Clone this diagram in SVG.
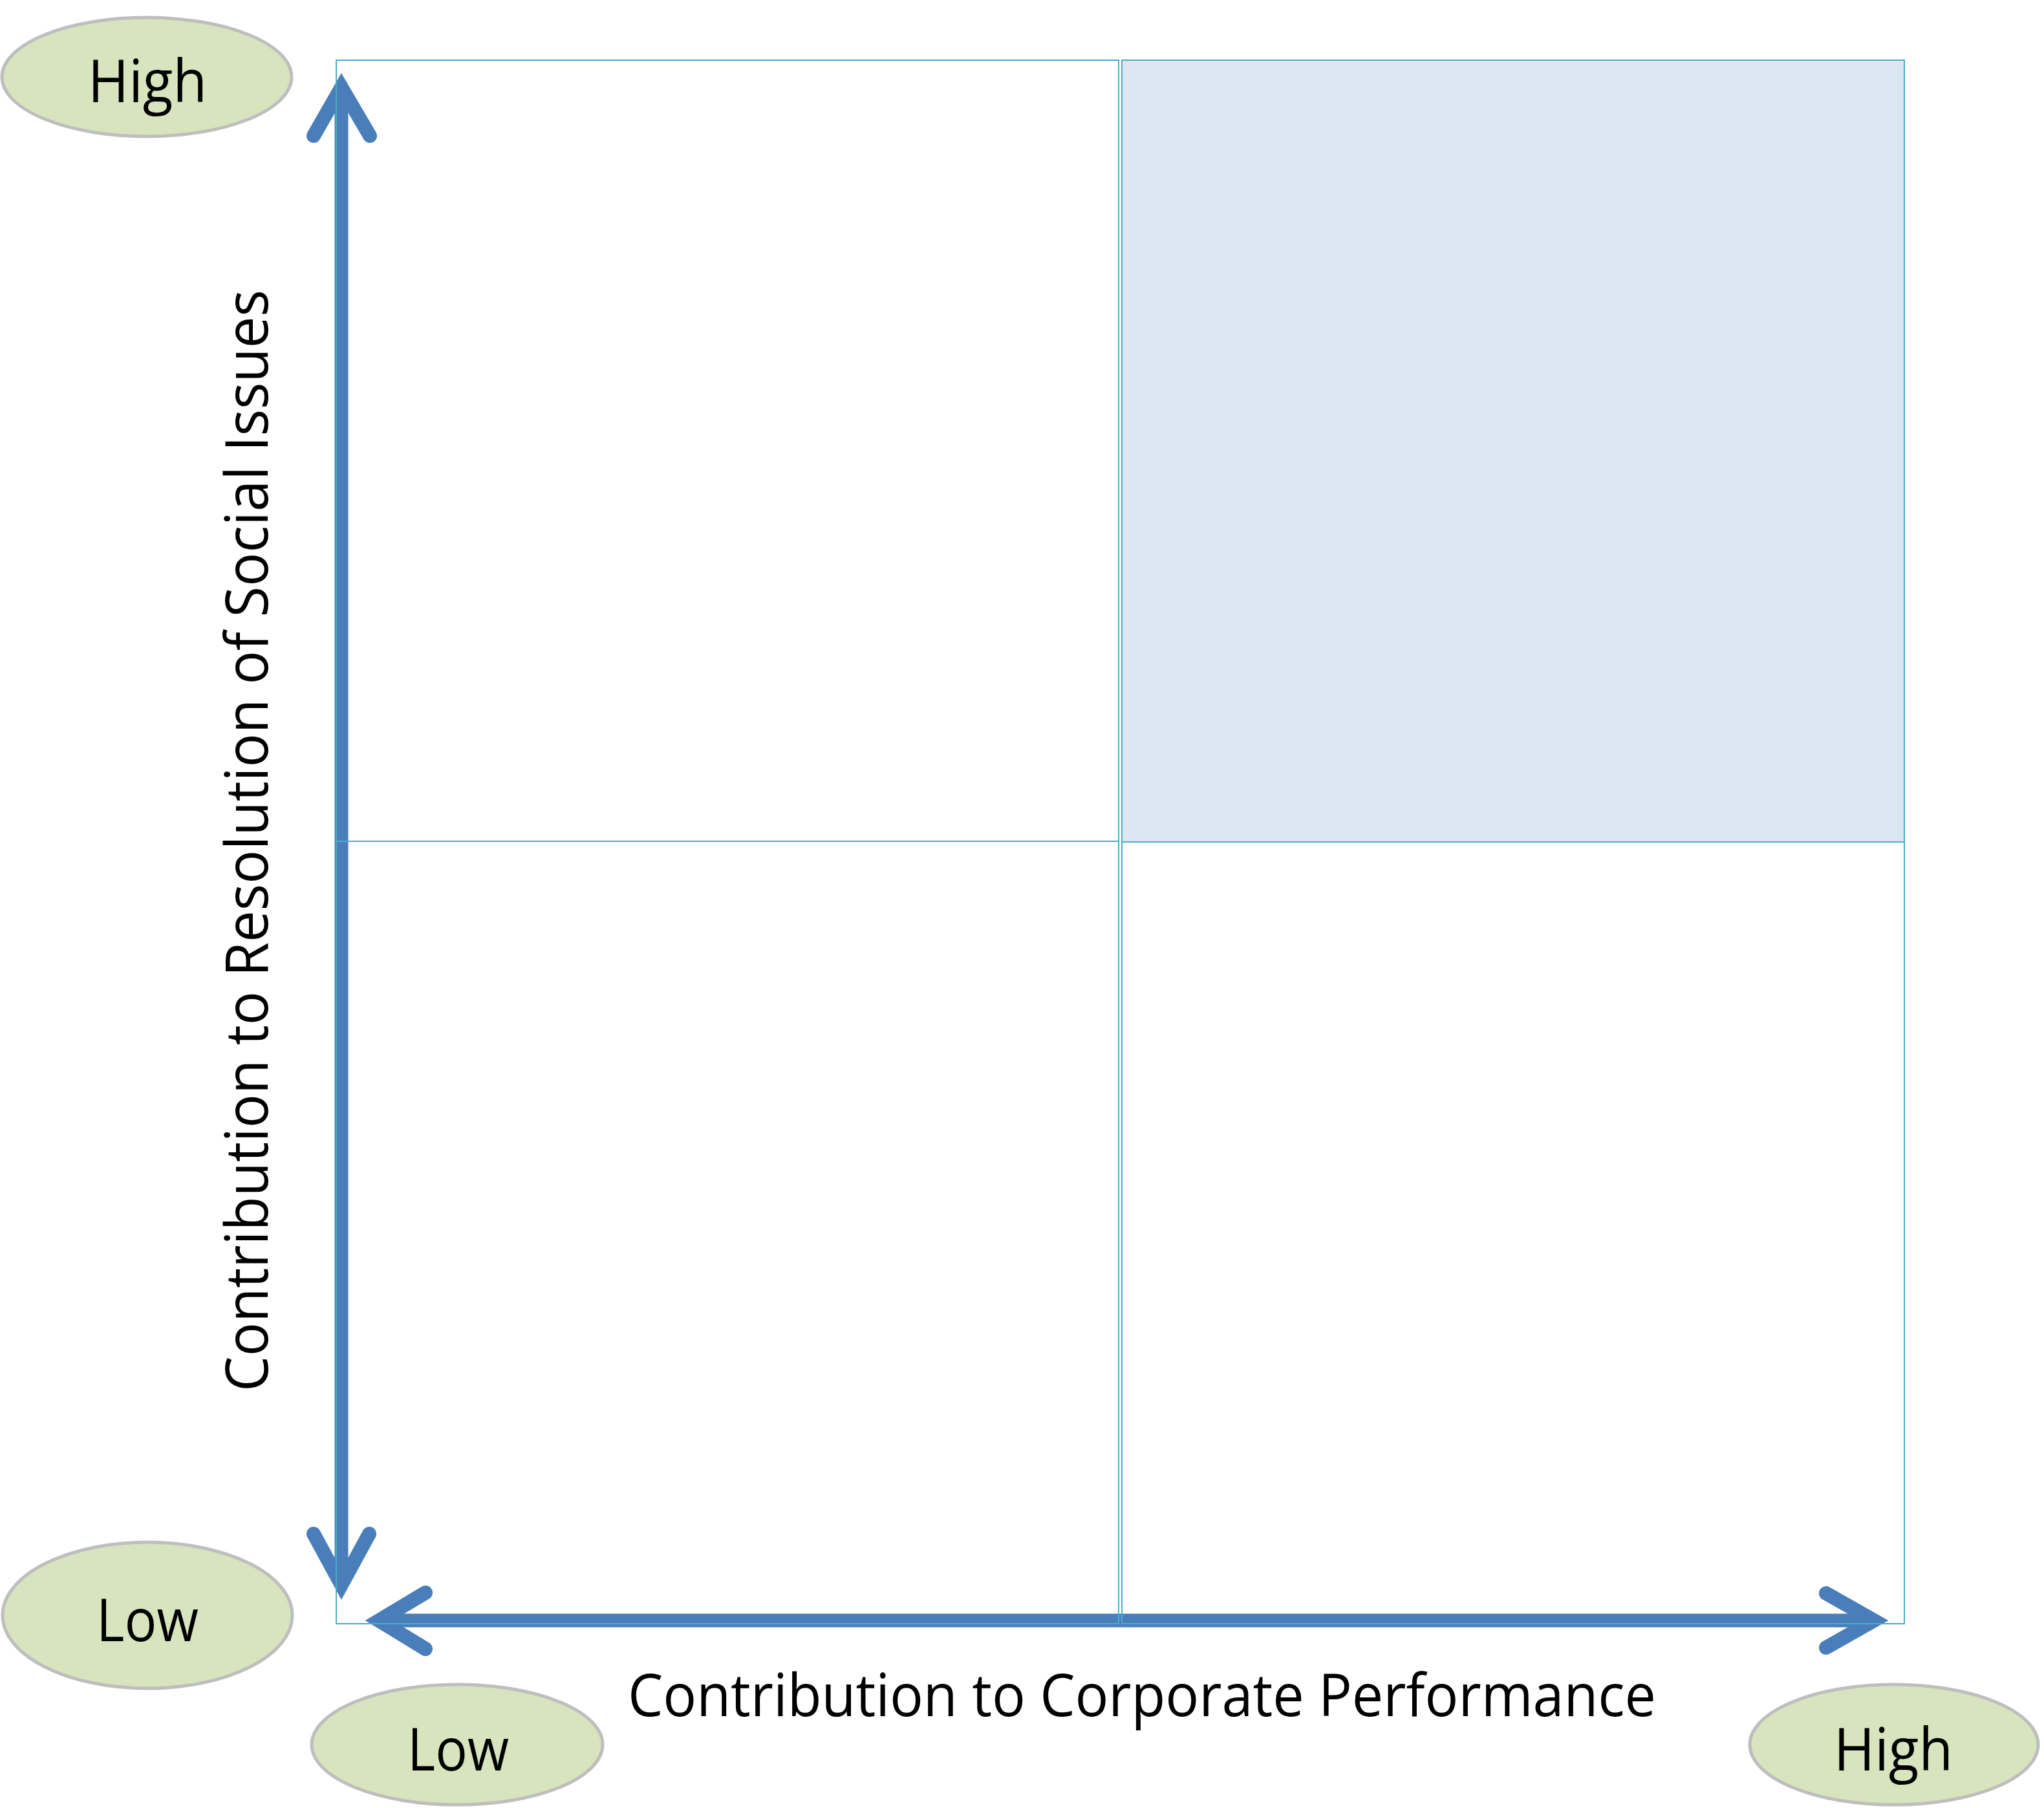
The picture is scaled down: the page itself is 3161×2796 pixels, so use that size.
<svg xmlns="http://www.w3.org/2000/svg" width="3161" height="2796" viewBox="0 0 3161 2796">
  <style>
    .cell { fill: none; stroke: #4bacc6; stroke-width: 2; }
    .arrow { fill: none; stroke: #4a7ebb; stroke-width: 21; stroke-linejoin: miter; stroke-miterlimit: 4; }
    .head { fill: none; stroke: #4a7ebb; stroke-width: 22; stroke-linejoin: miter; stroke-linecap: round; stroke-miterlimit: 4; }
    .oval { fill: #d7e4bd; stroke: #bebebe; stroke-width: 5; }
    .lbl { font-family: "Segoe UI", "Open Sans", "Noto Sans", sans-serif; font-size: 92px; fill: #000000; }
  </style>
  <rect width="3161" height="2796" fill="#ffffff"/>

  <g id="quadrant-highlight">
    <rect x="1735" y="93" width="1210" height="1209" fill="#dce6f2"/>
  </g>

  <g id="connectors">
    <line class="arrow" x1="528" y1="135" x2="528" y2="2451"/>
    <polyline class="head" points="485,210 528,135 572,210"/>
    <polyline class="head" points="485,2372 528,2451 571,2372"/>
    <line class="arrow" x1="586" y1="2506" x2="2898" y2="2506"/>
    <polyline class="head" points="658,2463 586,2506 658,2550"/>
    <polyline class="head" points="2824,2464 2898,2506 2824,2548"/>
  </g>

  <g id="grid">
    <rect class="cell" x="520" y="93" width="1210" height="1208"/>
    <rect class="cell" x="1735" y="93" width="1210" height="1209"/>
    <rect class="cell" x="520" y="1301" width="1210" height="1210"/>
    <rect class="cell" x="1735" y="1302" width="1210" height="1209"/>
  </g>

  <g id="y-high">
    <ellipse class="oval" cx="227" cy="119" rx="224" ry="92"/>
    <text class="lbl" x="136" y="158" textLength="184" lengthAdjust="spacingAndGlyphs">High</text>
  </g>
  <g id="y-low">
    <ellipse class="oval" cx="228" cy="2498" rx="224" ry="113"/>
    <text class="lbl" x="149" y="2538" textLength="158" lengthAdjust="spacingAndGlyphs">Low</text>
  </g>
  <g id="x-low">
    <ellipse class="oval" cx="707" cy="2698" rx="225" ry="93"/>
    <text class="lbl" x="630" y="2738" textLength="157" lengthAdjust="spacingAndGlyphs">Low</text>
  </g>
  <g id="x-high">
    <ellipse class="oval" cx="2929" cy="2698" rx="223" ry="93"/>
    <text class="lbl" x="2836" y="2738" textLength="184" lengthAdjust="spacingAndGlyphs">High</text>
  </g>

  <g id="x-axis-label">
    <text class="lbl" x="971" y="2654" textLength="1590" lengthAdjust="spacingAndGlyphs">Contribution to Corporate Performance</text>
  </g>
  <g id="y-axis-label">
    <text class="lbl" transform="translate(414,2152) rotate(-90)" x="0" y="0" textLength="1704" lengthAdjust="spacingAndGlyphs">Contribution to Resolution of Social Issues</text>
  </g>
</svg>
